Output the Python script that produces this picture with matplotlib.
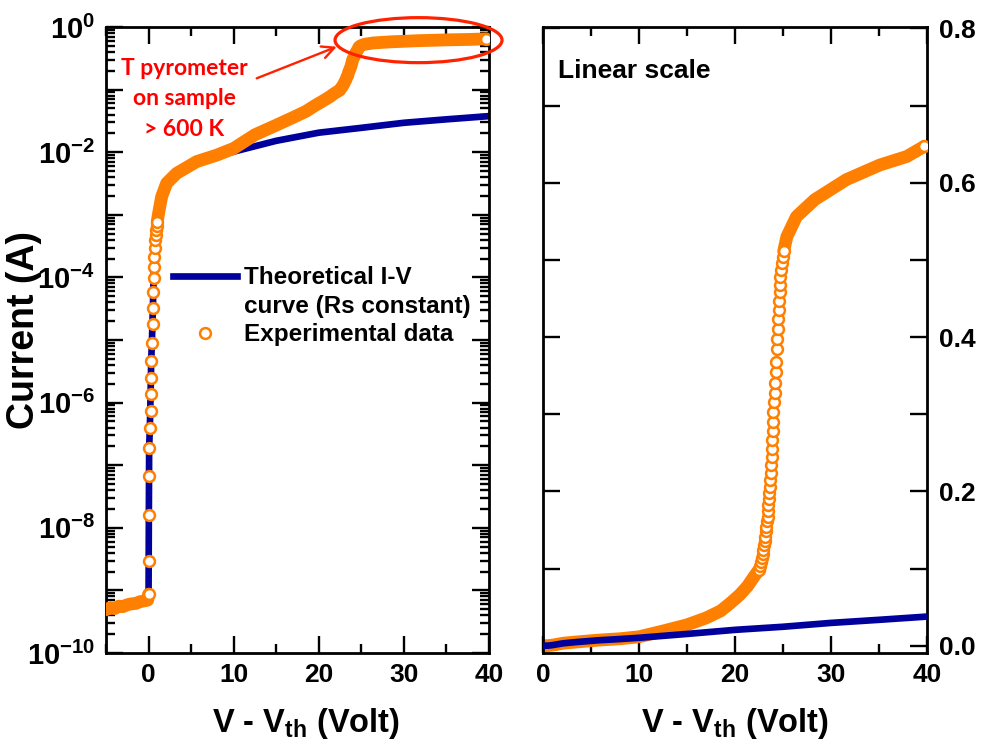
import numpy as np
import matplotlib
matplotlib.use('Agg')
import matplotlib.pyplot as plt
from matplotlib.patches import Ellipse
from matplotlib.lines import Line2D
from matplotlib.ticker import MultipleLocator, LogLocator, NullFormatter, FuncFormatter, FormatStrFormatter

# ---------------- data ----------------
# Theoretical I-V curve (Rs constant)
theo_v = [0.0, 0.035, 0.07, 0.15, 0.24, 0.31, 0.39, 0.51, 0.59, 0.71, 0.83, 1.02,
          1.54, 2.13, 3.3, 5.67, 8.03, 10.0, 15.0, 20.0, 25.0, 30.0, 35.0, 40.0]
theo_i = [8e-10, 1.6e-8, 1.9e-7, 3.9e-7, 1.35e-6, 4.7e-6, 8.9e-6, 3.3e-5, 9.8e-5, 2.95e-4, 4.8e-4, 7.8e-4,
          1.9e-3, 3.1e-3, 4.5e-3, 6.9e-3, 8.6e-3, 0.0102, 0.0152, 0.0205, 0.0245, 0.0295, 0.0335, 0.0377]

# Experimental data, in sections
floor_v = [-5.0, -4.5, -4.0, -3.5, -3.0, -2.5, -2.0, -1.5, -1.0, -0.5, -0.1]
floor_i = [4.9e-10, 5.3e-10, 5.1e-10, 5.6e-10, 5.5e-10, 5.9e-10, 6.1e-10, 6.2e-10, 6.6e-10, 6.8e-10, 7.0e-10]

rise_v = [0.0, 0.0, 0.035, 0.035, 0.07, 0.15, 0.24, 0.24, 0.27, 0.31, 0.39, 0.47,
          0.51, 0.54, 0.59, 0.63, 0.66, 0.71, 0.74, 0.83, 0.90, 0.94, 1.02]
rise_i = [8.7e-10, 2.9e-9, 1.6e-8, 6.6e-8, 1.9e-7, 3.9e-7, 7.4e-7, 1.35e-6, 2.45e-6, 4.7e-6, 8.9e-6, 1.8e-5,
          3.3e-5, 5.8e-5, 9.8e-5, 1.48e-4, 2.14e-4, 2.95e-4, 3.9e-4, 4.8e-4, 5.75e-4, 6.6e-4, 7.8e-4]

knee_v = [1.25, 1.54, 2.13, 3.3, 5.67, 8.03, 10.0, 12.5, 15.0, 17.0, 18.5, 19.5, 20.5, 21.3, 21.9]
knee_i = [1.2e-3, 1.95e-3, 3.2e-3, 4.6e-3, 7.1e-3, 9.0e-3, 0.0115, 0.019, 0.027, 0.036, 0.045, 0.055, 0.066,
          0.077, 0.088]

jump_v = [22.47, 22.57, 22.67, 22.78, 22.88, 22.95, 23.02, 23.09, 23.16, 23.23, 23.26, 23.33,
          23.40, 23.44, 23.47, 23.51, 23.58, 23.61, 23.68, 23.72, 23.78, 23.82, 23.85, 23.89,
          23.92, 23.96, 23.99, 24.06, 24.13, 24.20, 24.24, 24.30, 24.34, 24.41, 24.48, 24.51,
          24.58, 24.62, 24.65, 24.69, 24.72, 24.79, 24.86, 24.97, 25.07]
jump_i = [0.098, 0.103, 0.108, 0.113, 0.119, 0.124, 0.130, 0.136, 0.141, 0.148, 0.154, 0.161,
          0.167, 0.175, 0.182, 0.190, 0.198, 0.206, 0.215, 0.224, 0.234, 0.244, 0.255, 0.266,
          0.278, 0.290, 0.303, 0.316, 0.328, 0.340, 0.355, 0.368, 0.384, 0.397, 0.410, 0.423,
          0.435, 0.447, 0.458, 0.468, 0.478, 0.487, 0.496, 0.504, 0.511]

sat_v = [25.4, 26.4, 28.3, 31.6, 35.1, 37.9, 39.7]
sat_i = [0.530, 0.556, 0.578, 0.604, 0.623, 0.634, 0.647]

log_xticks = [0, 10, 20, 30, 40]
lin_yticks = [0.0, 0.2, 0.4, 0.6, 0.8]

# ---------------- style ----------------
plt.rcParams['font.family'] = ['Liberation Sans', 'DejaVu Sans']
plt.rcParams['font.weight'] = 'bold'
plt.rcParams['mathtext.fontset'] = 'custom'
plt.rcParams['mathtext.rm'] = 'Liberation Sans:bold'
plt.rcParams['mathtext.bf'] = 'Liberation Sans:bold'
plt.rcParams['mathtext.it'] = 'Liberation Sans:bold:italic'
plt.rcParams['axes.linewidth'] = 2.0

ORANGE = '#FF7F00'
BLUE = '#00009C'
RED = '#FF2200'
BAND_LW = 9.2
MS = 7.8
MEW = 1.8
BLUE_LW = 4.8

fig = plt.figure(figsize=(9.82, 7.54), dpi=100)
ax1 = fig.add_axes([106 / 982, 101 / 754, 383 / 982, 626 / 754])
ax2 = fig.add_axes([543 / 982, 101 / 754, 384 / 982, 626 / 754])

band_kw = dict(color=ORANGE, lw=BAND_LW, solid_capstyle='round', solid_joinstyle='round')
mk_kw = dict(ls='none', marker='o', mfc='white', mec=ORANGE, ms=MS, mew=MEW)

# ---------------- log panel ----------------
ax1.set_yscale('log')
ax1.plot(theo_v, theo_i, color=BLUE, lw=BLUE_LW, zorder=2)
ax1.plot(floor_v + rise_v[:1], floor_i + rise_i[:1], zorder=3, **band_kw)
ax1.plot(rise_v[-1:] + knee_v + jump_v + sat_v, rise_i[-1:] + knee_i + jump_i + sat_i, zorder=3, **band_kw)
ax1.plot(rise_v, rise_i, zorder=4, **mk_kw)
ax1.plot(sat_v[-1:], sat_i[-1:], zorder=4, **mk_kw)

ax1.set_xlim(-5, 40)
ax1.set_ylim(1e-10, 1)
ax1.set_xticks(log_xticks)
ax1.xaxis.set_minor_locator(MultipleLocator(5))
ax1.yaxis.set_major_locator(LogLocator(base=10, numticks=30))
ax1.yaxis.set_minor_locator(LogLocator(base=10, subs=np.arange(2, 10), numticks=30))
ax1.yaxis.set_minor_formatter(NullFormatter())


def log_fmt(y, pos):
    e = int(round(np.log10(y)))
    return r'$10^{%d}$' % e if e % 2 == 0 else ''


ax1.yaxis.set_major_formatter(FuncFormatter(log_fmt))
ax1.tick_params(which='both', direction='in', top=True, right=True, width=1.7)
ax1.tick_params(which='major', length=12)
ax1.tick_params(which='minor', length=6.5)
ax1.tick_params(axis='x', labelsize=19, pad=7)
ax1.tick_params(axis='y', labelsize=21, pad=8)

ax1.set_xlabel(r'V - V$_{\mathrm{th}}$ (Volt)', fontsize=23.5, fontweight='bold')
ax1.xaxis.set_label_coords(0.523, -0.085)
ax1.set_ylabel('Current (A)', fontsize=27, fontweight='bold')
ax1.yaxis.set_label_coords(-0.168, 0.516)

handles = [Line2D([], [], color=BLUE, lw=BLUE_LW),
           Line2D([], [], color='none'),
           Line2D([], [], **mk_kw)]
labels = ['Theoretical I-V', 'curve (Rs constant)', 'Experimental data']
ax1.legend(handles, labels, loc='center left', bbox_to_anchor=(0.175, 0.554), frameon=False,
           fontsize=17.5, handlelength=2.65, handletextpad=0.25, labelspacing=0.22,
           borderpad=0, borderaxespad=0, numpoints=1)

ax1.text(0.204, 0.885, 'T pyrometer\non sample\n> 600 K', transform=ax1.transAxes,
         ha='center', va='center', color='red', fontsize=16.5, family='Lato',
         fontweight='bold', linespacing=1.55)
ax1.annotate('', xy=(0.6024, 0.9685), xytext=(0.3935, 0.918), xycoords='axes fraction',
             arrowprops=dict(arrowstyle='->', color=RED, lw=1.7, shrinkA=0, shrinkB=0,
                             mutation_scale=22))
ax1.add_patch(Ellipse((0.816, 0.979), 0.436, 0.0719, transform=ax1.transAxes, fill=False,
                      ec=RED, lw=2.3, clip_on=False, zorder=6))

# ---------------- linear panel ----------------
ax2.plot(floor_v + rise_v + knee_v + jump_v[:1], floor_i + rise_i + knee_i + jump_i[:1], zorder=2, **band_kw)
ax2.plot(jump_v[-1:] + sat_v, jump_i[-1:] + sat_i, zorder=2, **band_kw)
ax2.plot(jump_v, jump_i, zorder=3, **mk_kw)
ax2.plot(sat_v[-1:], sat_i[-1:], zorder=3, **mk_kw)
ax2.plot(theo_v, theo_i, color=BLUE, lw=BLUE_LW, zorder=4)

ax2.set_xlim(0, 40)
ax2.set_ylim(-0.0095, 0.8018)
ax2.set_xticks(log_xticks)
ax2.xaxis.set_minor_locator(MultipleLocator(5))
ax2.set_yticks(lin_yticks)
ax2.yaxis.set_minor_locator(MultipleLocator(0.1))
ax2.yaxis.set_major_formatter(FormatStrFormatter('%.1f'))
ax2.tick_params(which='both', direction='in', top=True, right=True, left=True, width=1.7)
ax2.tick_params(which='major', length=12)
ax2.tick_params(axis='x', which='minor', length=6.5)
ax2.tick_params(axis='y', which='minor', length=12)
ax2.tick_params(axis='y', labelleft=False, labelright=True, labelsize=19, pad=9)
ax2.tick_params(axis='x', labelsize=19, pad=7)
ax2.set_xlabel(r'V - V$_{\mathrm{th}}$ (Volt)', fontsize=23.5, fontweight='bold')
ax2.xaxis.set_label_coords(0.5, -0.085)
ax2.text(0.039, 0.93, 'Linear scale', transform=ax2.transAxes, fontsize=19,
         ha='left', va='center', fontweight='bold')

fig.savefig('out.png', dpi=100)
